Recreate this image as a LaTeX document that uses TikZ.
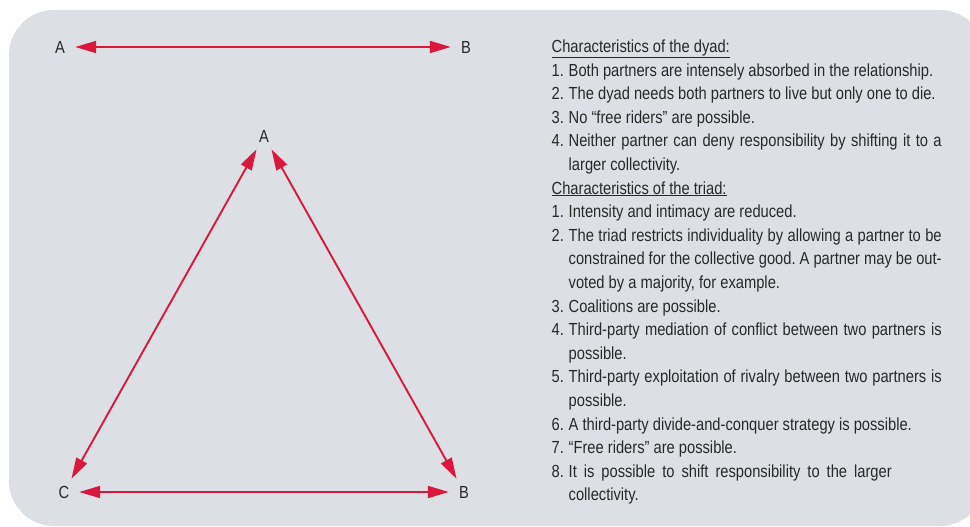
\documentclass[tikz,border=0pt]{standalone}
\usepackage{fontspec}
\setmainfont{Liberation Sans}[FakeStretch=0.84]
\usetikzlibrary{arrows.meta}

\definecolor{boxgray}{RGB}{220,224,228}
\definecolor{linkred}{RGB}{218,24,62}
\definecolor{textgray}{RGB}{40,40,40}

% numbered entry with hanging indent
\newcommand{\numentry}[2]{\par\hangindent=17pt\hangafter=1\noindent\makebox[17pt][l]{#1}#2\par}

\begin{document}
\begin{tikzpicture}[
    x=1pt, y=-1pt,
    >={Triangle[length=21pt,width=12pt]},
    every node/.style={font=\fontsize{17.5}{23.6}\selectfont, text=textgray},
    member/.style={circle, inner sep=0pt, minimum size=30pt},
    link/.style={linkred, line width=1.9pt, <->}
]

% ============================================================
% Hintergrund
% ============================================================

\useasboundingbox (0,0) rectangle (970,527);
\fill[boxgray, rounded corners=45pt] (9,10) rectangle (985,526);

% ============================================================
% Dyade
% ============================================================

\node[member] (dyadA) at (60,47) {A};
\node[member] (dyadB) at (466,47) {B};

\draw[link] (dyadA) -- (dyadB);

% ============================================================
% Triade
% ============================================================

\node[member] (triadA) at (264,136) {A};
\node[member] (triadB) at (464,492) {B};
\node[member] (triadC) at (64,492) {C};

\draw[link] (triadA) -- (triadC);
\draw[link] (triadA) -- (triadB);
\draw[link] (triadC) -- (triadB);

% ============================================================
% Merkmale
% ============================================================

\node[
    anchor=base west,
    text width=390pt,
    align=justify,
    inner sep=0pt
] (notes) at (551.5,52.5)
{\frenchspacing\hyphenpenalty=10000 \exhyphenpenalty=10000
\underline{Characteristics of the dyad:}
\numentry{1.}{Both partners are intensely absorbed in the relationship.}
\numentry{2.}{The dyad needs both partners to live but only one to die.}
\numentry{3.}{No “free riders” are possible.}
\numentry{4.}{Neither partner can deny responsibility by shifting it to a\linebreak larger collectivity.}
\noindent\underline{Characteristics of the triad:}
\numentry{1.}{Intensity and intimacy are reduced.}
\numentry{2.}{The triad restricts individuality by allowing a partner to be\linebreak constrained for the collective good. A partner may be out-\linebreak{}voted by a majority, for example.}
\numentry{3.}{Coalitions are possible.}
\numentry{4.}{Third-party mediation of conflict between two partners is\linebreak possible.}
\numentry{5.}{Third-party exploitation of rivalry between two partners is\linebreak possible.}
\numentry{6.}{A third-party divide-and-conquer strategy is possible.}
\numentry{7.}{“Free riders” are possible.}
\numentry{8.}{It is possible to shift responsibility to the larger\hspace*{50pt}\linebreak collectivity.}
};

\end{tikzpicture}
\end{document}
